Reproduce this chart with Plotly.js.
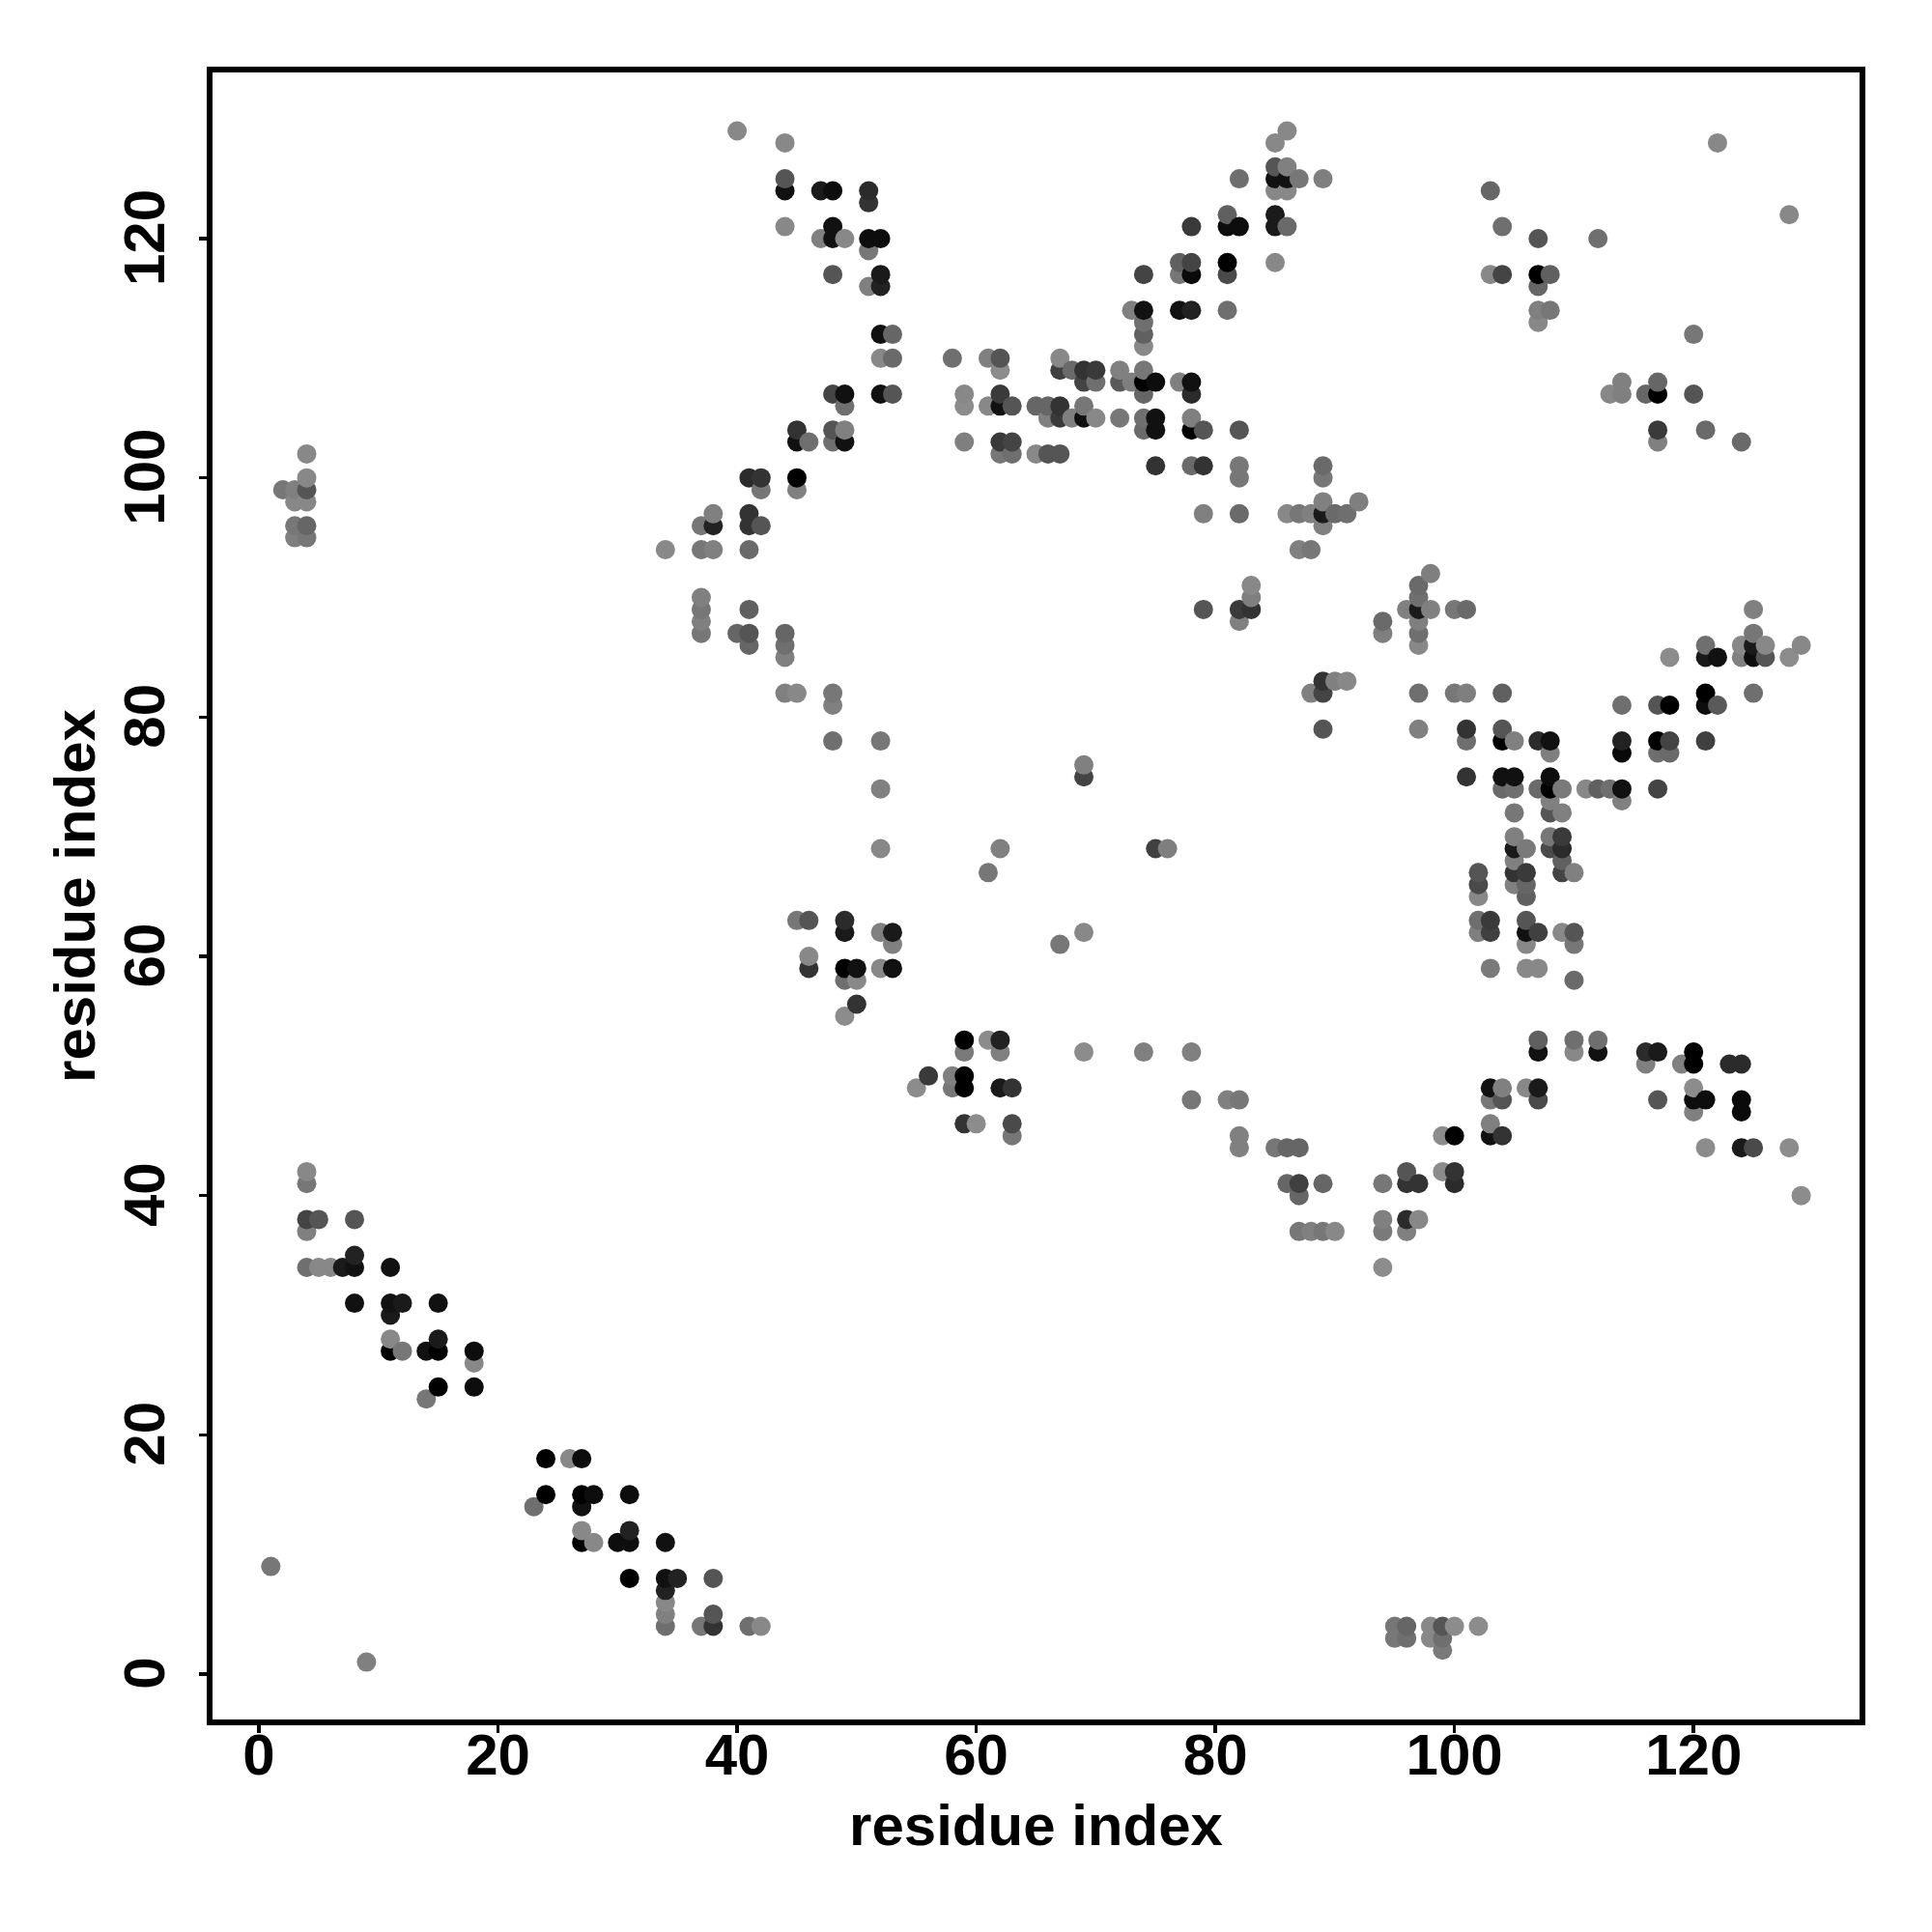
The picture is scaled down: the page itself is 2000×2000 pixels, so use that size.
<!DOCTYPE html>
<html>
<head>
<meta charset="utf-8">
<script src="https://cdn.plot.ly/plotly-3.0.1.min.js"></script>
<style>html,body{margin:0;padding:0;background:#fff}</style>
</head>
<body>
<div id="chart" style="width:2000px;height:2000px"></div>
<script>
// Contact map: one line per value of residue i (x). residueJ = y, shade = gray level 0-255.
const residueI = [
1,
2,
3,3,3,3,
4,4,4,4,4,4,4,4,4,4,4,
5,5,
6,
7,
8,8,8,8,
9,
11,11,11,11,11,
12,12,
14,14,
15,15,15,15,
18,18,18,
23,
24,24,
26,
27,27,27,27,27,
28,28,
30,
31,31,31,31,
34,34,34,34,34,34,34,
35,
37,37,37,37,37,37,37,
38,38,38,38,38,38,
40,40,
41,41,41,41,41,41,41,41,
42,42,42,42,
44,44,44,44,44,44,44,44,
45,45,45,45,45,45,
46,46,46,46,
47,47,
48,48,48,48,48,48,48,48,48,48,
49,49,49,49,49,49,49,49,49,49,
50,50,50,
51,51,51,51,51,
52,52,52,52,52,52,52,52,52,52,52,
53,53,53,53,53,53,
55,
56,
58,58,58,
59,59,59,59,59,59,59,59,
60,
61,61,61,61,
62,62,62,62,62,62,62,62,62,62,
63,63,63,63,63,63,
65,65,
66,66,66,
67,67,67,67,67,67,
68,68,
69,69,69,69,69,69,69,69,
70,70,70,
72,72,72,
73,73,
74,74,74,74,74,74,74,74,74,74,74,
75,75,75,75,75,
76,
77,77,77,77,
78,78,78,78,78,78,78,78,78,78,78,
79,79,79,79,
81,81,81,81,81,81,
82,82,82,82,82,82,82,82,82,82,82,
83,83,83,
85,85,85,85,85,85,85,85,
86,86,86,86,86,86,86,86,
87,87,87,87,87,87,87,
88,88,88,88,
89,89,89,89,89,89,89,89,89,89,89,
90,90,90,
91,91,
92,
94,94,94,94,94,94,
95,95,
96,96,96,96,96,96,96,
97,97,97,97,97,97,97,97,97,97,
98,98,98,98,
99,99,99,99,99,
100,100,100,100,100,100,
101,101,101,101,101,
102,102,102,102,102,102,
103,103,103,103,103,103,103,103,103,
104,104,104,104,104,104,104,104,104,104,
105,105,105,105,105,105,105,105,105,
106,106,106,106,106,106,106,106,106,
107,107,107,107,107,107,107,107,107,107,107,107,107,
108,108,108,108,108,108,108,108,108,108,
109,109,109,109,109,109,109,
110,110,110,110,110,110,
111,
112,112,112,112,
113,113,
114,114,114,114,114,114,114,
116,116,116,
117,117,117,117,117,117,117,117,117,117,
118,118,118,118,
119,
120,120,120,120,120,120,120,
121,121,121,121,121,121,121,121,
122,122,122,
123,
124,124,124,124,124,124,124,
125,125,125,125,125,125,
126,126,
128,128,128,
129,129
];
const residueJ = [
9,
99,
95,96,98,99,
34,37,38,41,42,95,96,98,99,100,102,
34,38,
34,
34,
31,34,35,38,
1,
27,28,30,31,34,
27,31,
23,27,
24,27,28,31,
24,26,27,
14,
15,18,
18,
11,12,14,15,18,
11,15,
11,
8,11,12,15,
4,5,6,7,8,11,94,
8,
4,87,88,89,90,94,96,
4,5,8,94,96,97,
87,129,
4,86,87,89,94,96,97,100,
4,96,99,100,
82,85,86,87,121,124,125,128,
63,82,99,100,103,104,
59,60,63,103,
120,124,
78,81,82,103,104,107,117,120,121,124,
55,58,59,62,63,103,104,106,107,120,
56,58,59,
116,119,120,123,124,
59,62,69,74,78,107,110,112,116,117,120,
59,61,62,107,110,112,
49,
50,
49,50,110,
46,49,50,52,53,103,106,107,
46,
53,67,106,110,
49,52,53,69,102,103,106,107,109,110,
45,46,49,102,103,106,
102,106,
102,105,106,
61,102,105,106,109,110,
105,109,
52,62,75,76,105,106,108,109,
105,108,109,
105,108,109,
108,114,
52,104,105,107,108,109,111,112,113,114,117,
69,101,104,105,108,
69,
108,114,117,118,
48,52,101,104,105,107,108,114,117,118,121,
89,97,101,104,
48,114,117,118,121,122,
44,45,48,88,89,97,100,101,104,121,125,
89,90,91,
44,118,121,122,124,125,126,128,
41,44,97,121,124,125,126,129,
37,40,41,44,94,97,125,
37,82,94,97,
37,41,79,82,83,96,97,98,100,101,125,
37,83,97,
83,97,
98,
34,37,38,41,87,88,
3,4,
3,4,37,38,41,42,89,
38,41,79,82,86,87,88,89,90,91,
3,4,89,92,
2,3,4,42,45,
4,41,42,45,82,89,
75,78,79,82,89,
4,62,63,65,66,67,
45,46,48,49,59,62,63,117,124,
45,48,49,74,75,78,79,82,117,121,
66,67,68,69,70,72,74,75,78,
49,59,61,62,63,65,66,67,69,
48,49,52,53,59,62,74,78,113,114,116,117,120,
69,70,72,73,74,75,77,78,114,117,
62,67,68,69,70,72,74,
52,53,58,61,62,67,
74,
52,53,74,120,
74,107,
73,74,77,78,81,107,108,
51,52,107,
48,52,74,77,78,81,103,104,107,108,
77,78,81,85,
51,
47,48,49,51,52,107,112,
44,48,78,81,82,85,86,104,
81,85,128,
51,
44,47,48,51,85,86,103,
44,82,85,86,87,89,
85,86,
44,85,122,
40,86
];
const shade = [
119,
119,
128,119,136,128,
111,128,68,119,136,119,102,136,85,136,136,
136,85,
136,
26,
17,17,34,85,
128,
0,136,26,17,17,
119,26,
119,17,
0,0,26,17,
13,136,13,
111,
0,0,
136,
0,136,17,0,13,
136,13,
13,
0,13,34,13,
111,128,136,34,17,17,136,
34,
119,119,128,119,128,119,119,
51,85,85,128,34,128,
102,136,
111,102,85,96,106,51,51,43,
136,85,119,51,
128,128,111,102,136,17,85,136,
119,136,128,0,17,51,
51,136,85,111,
128,26,
111,128,119,111,85,68,85,17,17,13,
140,111,0,26,43,17,128,111,17,136,
51,136,17,
128,119,13,51,43,
136,128,136,128,119,17,136,17,34,26,13,
17,128,26,85,106,102,
140,
58,
119,128,111,
51,0,0,122,0,127,140,136,
140,
140,119,136,128,
26,128,34,128,119,58,17,58,140,85,
119,74,51,111,68,85,
136,102,
85,128,102,
119,85,58,51,64,136,
128,106,
140,136,68,128,17,119,68,51,
136,111,58,
119,90,128,
127,128,
128,106,111,102,0,119,136,96,111,17,68,
64,51,17,17,13,
127,
128,17,119,96,
119,128,106,0,128,43,17,34,10,68,58,
85,128,51,85,
128,111,74,0,13,96,
128,128,119,128,58,106,119,119,85,13,111,
51,127,136,
119,136,26,26,136,17,85,136,
102,102,136,106,136,17,128,136,
119,102,64,102,128,119,119,
128,128,119,128,
119,102,85,68,51,128,26,128,119,106,127,
136,128,106,
136,111,
127,
140,122,128,119,127,106,
119,119,
111,102,128,43,51,85,128,
136,51,128,111,136,111,127,26,111,106,
136,136,128,127,
122,111,85,140,140,
140,43,51,0,119,119,
51,111,51,127,106,
140,128,111,136,74,85,
17,128,119,17,122,64,58,136,102,
51,85,128,106,17,0,85,96,68,111,
128,51,128,26,128,119,111,17,128,
136,136,136,17,85,96,102,58,122,
74,26,17,96,136,64,106,43,136,128,102,0,85,
74,119,85,128,0,13,127,17,119,96,
136,68,96,43,58,128,122,
136,111,106,119,85,128,
136,
17,111,96,111,
111,136,
128,17,10,34,111,128,128,
128,43,102,
85,26,68,111,0,85,128,58,0,102,
106,68,0,140,
128,
128,13,140,0,0,85,119,
140,13,64,13,0,26,111,106,
90,17,136,
43,
26,10,10,43,128,136,106,
74,111,13,26,119,128,
85,136,
140,140,136,
140,136
];
const tickValues = [0, 20, 40, 60, 80, 100, 120];
const xRange = [-3.878, 133.88];
const yRange = [-3.795, 133.89];
const axisName = 'residue index';

const FONT = '"Liberation Sans", Arial, sans-serif';
const order = residueI.map((_, k) => k).sort((a, b) => residueI[a] - residueI[b] || residueJ[a] - residueJ[b]);

function axis(extra) {
  return Object.assign({
    autorange: false, tickmode: 'array', tickvals: tickValues,
    ticktext: tickValues.map(String),
    showgrid: false, zeroline: false, showline: true, mirror: true,
    linecolor: '#000', linewidth: 6, ticks: 'outside', ticklen: 8, tickwidth: 3.5, tickcolor: '#000',
    tickfont: {family: FONT, size: 60, color: '#000', weight: 700},
    automargin: false
  }, extra);
}

Plotly.newPlot('chart', [{
  type: 'scatter', mode: 'markers',
  x: order.map(k => residueI[k]),
  y: order.map(k => residueJ[k]),
  marker: {
    size: 20,
    color: order.map(k => `rgb(${shade[k]},${shade[k]},${shade[k]})`),
    line: {width: 0}
  },
  hoverinfo: 'x+y'
}], {
  width: 2000, height: 2000,
  paper_bgcolor: '#fff', plot_bgcolor: '#fff',
  showlegend: false,
  margin: {l: 220, r: 75, t: 75, b: 220, pad: 0},
  xaxis: axis({range: xRange, ticklabelstandoff: -29, title: {text: '<b>' + axisName + '</b>', standoff: 21, font: {family: FONT, size: 60, color: '#000'}}}),
  yaxis: axis({range: yRange, tickangle: -90, ticklabelstandoff: 12, ticklabelshift: 8, title: {text: '<b>' + axisName + '</b>', standoff: 0, font: {family: FONT, size: 60, color: '#000'}}})
}, {displayModeBar: false, staticPlot: true});
</script>
</body>
</html>
